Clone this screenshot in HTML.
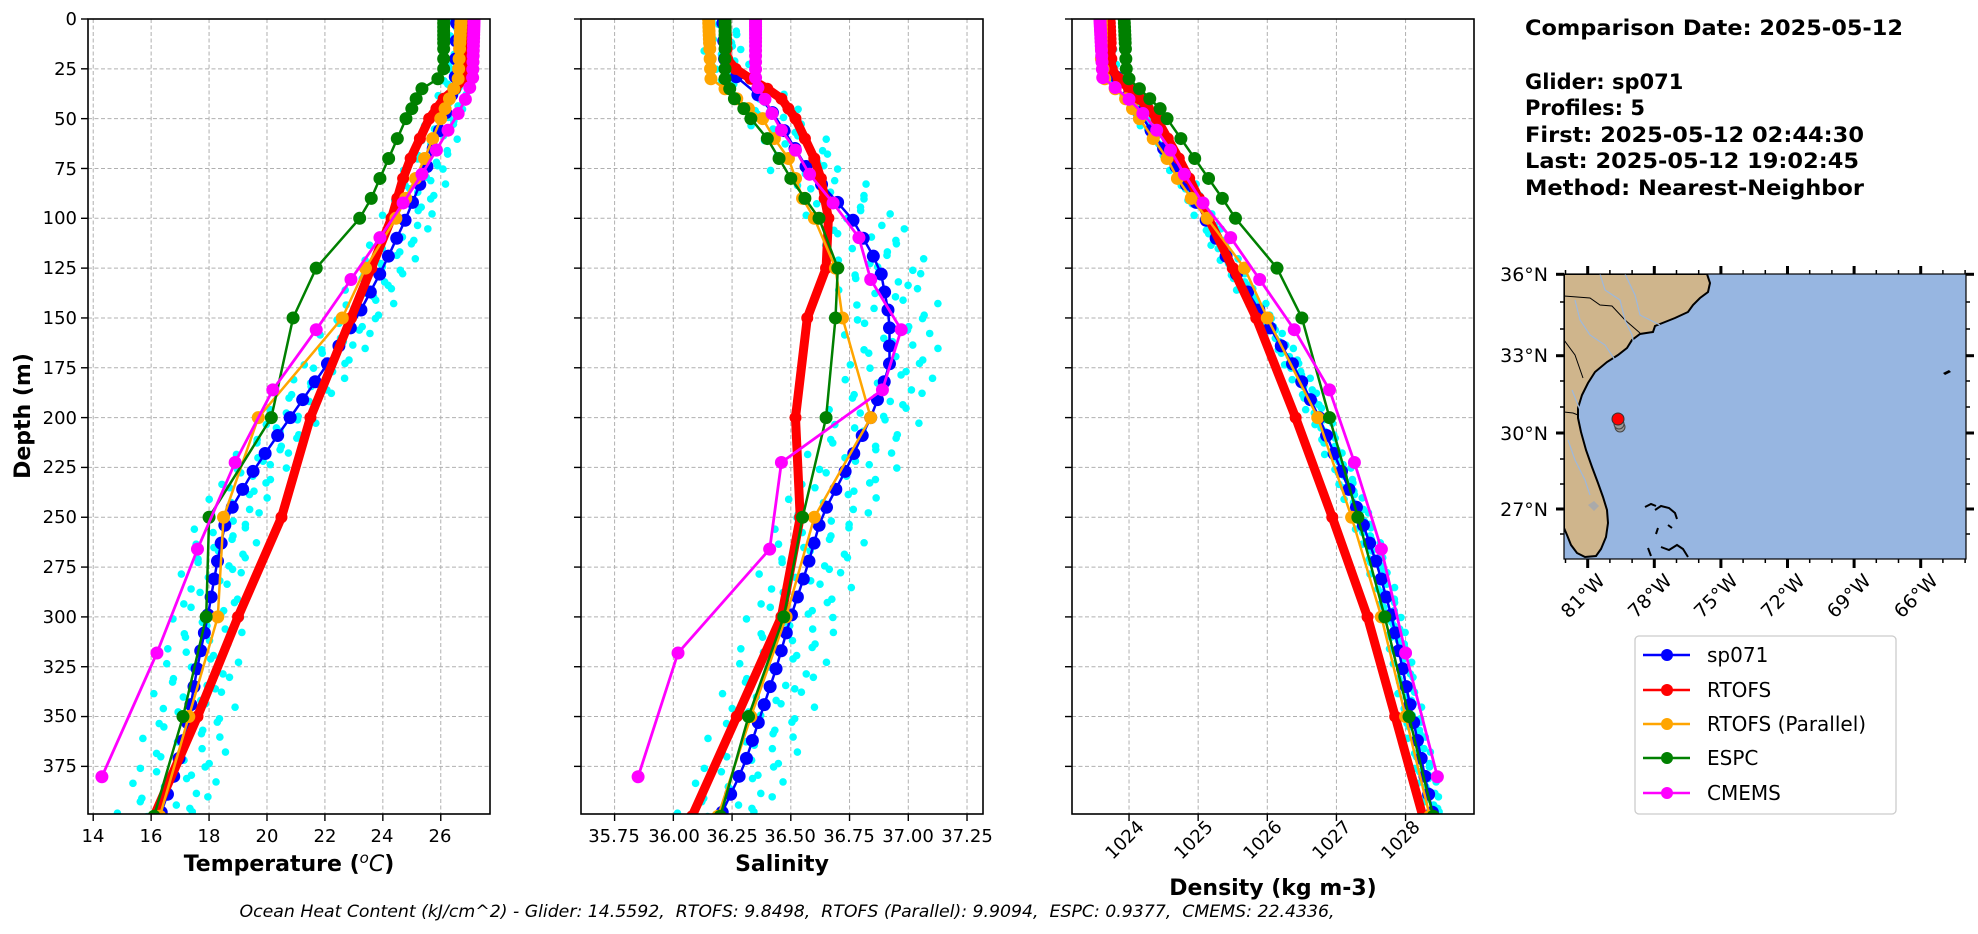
<!DOCTYPE html>
<html><head><meta charset="utf-8">
<style>
html,body{margin:0;padding:0;background:#fff;}
svg{display:block;}
text{font-family:"DejaVu Sans","Liberation Sans",sans-serif;fill:#000;}
</style></head>
<body>
<svg id="s" width="1978" height="934" viewBox="0 0 1978 934" xmlns="http://www.w3.org/2000/svg">
<defs>
<clipPath id="c1"><rect x="88" y="19" width="402" height="795"/></clipPath>
<clipPath id="c2"><rect x="581" y="19" width="402" height="795"/></clipPath>
<clipPath id="c3"><rect x="1072" y="19" width="402" height="795"/></clipPath>
<clipPath id="cm"><rect x="1564" y="274" width="402" height="285"/></clipPath>
</defs>
<g id="grid"></g>
<g id="data"></g>
<g id="frames" fill="none" stroke="#000" stroke-width="1.6">
<rect x="88" y="19" width="402" height="795"/>
<rect x="581" y="19" width="402" height="795"/>
<rect x="1072" y="19" width="402" height="795"/>
</g>
<g id="ticks" stroke="#000" stroke-width="1.4"></g>
<g font-size="18" text-anchor="end">
<text x="77" y="25">0</text><text x="77" y="75">25</text><text x="77" y="125">50</text><text x="77" y="175">75</text>
<text x="77" y="224">100</text><text x="77" y="274">125</text><text x="77" y="324">150</text><text x="77" y="374">175</text>
<text x="77" y="424">200</text><text x="77" y="473">225</text><text x="77" y="523">250</text><text x="77" y="573">275</text>
<text x="77" y="623">300</text><text x="77" y="673">325</text><text x="77" y="722">350</text><text x="77" y="772">375</text>
</g>
<g font-size="18" text-anchor="middle">
<text x="93" y="842">14</text><text x="151" y="842">16</text><text x="209" y="842">18</text><text x="267" y="842">20</text>
<text x="325" y="842">22</text><text x="382" y="842">24</text><text x="440" y="842">26</text>
<text x="614" y="842">35.75</text><text x="674" y="842">36.00</text><text x="732" y="842">36.25</text><text x="790" y="842">36.50</text>
<text x="849" y="842">36.75</text><text x="908" y="842">37.00</text><text x="967" y="842">37.25</text>
</g>
<g font-size="18" text-anchor="end">
<text transform="translate(1145,828) rotate(-45)">1024</text>
<text transform="translate(1214,828) rotate(-45)">1025</text>
<text transform="translate(1283,828) rotate(-45)">1026</text>
<text transform="translate(1352,828) rotate(-45)">1027</text>
<text transform="translate(1421,828) rotate(-45)">1028</text>
</g>
<g font-size="22" font-weight="bold" text-anchor="middle">
<text x="289" y="871">Temperature (<tspan font-weight="normal" font-style="italic" font-size="15" dy="-8">o</tspan><tspan font-weight="normal" font-style="italic" dy="8">C</tspan>)</text>
<text x="782" y="871">Salinity</text>
<text x="1273" y="895">Density (kg m-3)</text>
<text transform="translate(30,416) rotate(-90)">Depth (m)</text>
</g>
<text x="787" y="917" font-size="16.5" font-style="italic" text-anchor="middle" textLength="1095" lengthAdjust="spacingAndGlyphs">Ocean Heat Content (kJ/cm^2) - Glider: 14.5592,&#160; RTOFS: 9.8498,&#160; RTOFS (Parallel): 9.9094,&#160; ESPC: 0.9377,&#160; CMEMS: 22.4336,</text>

<g font-size="21" font-weight="bold">
<text x="1525" y="35" textLength="378" lengthAdjust="spacingAndGlyphs">Comparison Date: 2025-05-12</text>
<text x="1525" y="89">Glider: sp071</text>
<text x="1525" y="115">Profiles: 5</text>
<text x="1525" y="142" textLength="339" lengthAdjust="spacingAndGlyphs">First: 2025-05-12 02:44:30</text>
<text x="1525" y="168" textLength="334" lengthAdjust="spacingAndGlyphs">Last: 2025-05-12 19:02:45</text>
<text x="1525" y="195" textLength="339" lengthAdjust="spacingAndGlyphs">Method: Nearest-Neighbor</text>
</g>

<g id="map">
<rect x="1564" y="274" width="402" height="285" fill="#97b6e1"/>
<g clip-path="url(#cm)">
<path d="M1564,274 L1707,274 L1710,283 L1708,292 L1700,298 L1693,305 L1688,312 L1675,318 L1665,322 L1655,326 L1653,332 L1640,334 L1632,340 L1627,348 L1618,355 L1607,362 L1595,372 L1588,383 L1582,395 L1578,408 L1578,418 L1581,432 L1586,450 L1592,467 L1598,483 L1603,497 L1607,510 L1608,523 L1606,537 L1601,549 L1596,556 L1585,557 L1577,553 L1571,545 L1567,535 L1564,528 Z" fill="#cfb58c" stroke="#000" stroke-width="2"/>
<path d="M1564,296 L1590,298 L1600,305 L1612,306 L1625,320 L1640,333" fill="none" stroke="#000" stroke-width="1"/>
<path d="M1564,340 L1575,355 L1583,378" fill="none" stroke="#000" stroke-width="1"/>
<path d="M1564,412 L1573,413 L1578,415" fill="none" stroke="#000" stroke-width="1"/>
<path d="M1600,274 L1605,290 L1620,300 L1625,320 L1632,335 L1635,350 M1625,274 L1635,295 L1640,315 L1660,325 M1575,300 L1580,320 L1590,335 L1605,345 L1615,360 M1572,390 L1580,410 M1568,440 L1575,460 L1585,480 L1590,495" fill="none" stroke="#9db8dc" stroke-width="1.2"/>
<path d="M1588,505 l6,-4 l5,5 l-5,5 z" fill="#aaa"/>
<g fill="none" stroke="#000" stroke-width="2">
<path d="M1645,507 l6,-3 l5,2 M1655,510 l6,-4 l8,2 l6,5 l2,6 M1668,525 l4,3 M1658,528 l-2,6 M1648,548 l3,8 M1661,547 l8,3 l8,-5 l6,4 l5,8"/>
</g>
<path d="M1943,373 l6,-3 l2,2 l-6,3z" fill="#000"/>
<circle cx="1620" cy="427" r="5" fill="#999" stroke="#444" stroke-width="1"/>
<circle cx="1619" cy="424" r="5" fill="#999" stroke="#444" stroke-width="1"/>
<circle cx="1618" cy="419" r="6" fill="#f00" stroke="#333" stroke-width="1"/>
</g>
<rect x="1564" y="274" width="402" height="285" fill="none" stroke="#000" stroke-width="1.2"/>
<g id="mapticks" stroke="#000"></g>
<g font-size="19" text-anchor="end">
<text x="1548" y="281">36°N</text><text x="1548" y="362">33°N</text><text x="1548" y="440">30°N</text><text x="1548" y="516">27°N</text>
</g>
<g font-size="19" text-anchor="end">
<text transform="translate(1606,582) rotate(-45)">81°W</text>
<text transform="translate(1673,582) rotate(-45)">78°W</text>
<text transform="translate(1739,582) rotate(-45)">75°W</text>
<text transform="translate(1806,582) rotate(-45)">72°W</text>
<text transform="translate(1872,582) rotate(-45)">69°W</text>
<text transform="translate(1939,582) rotate(-45)">66°W</text>
</g>
</g>

<g>
<rect x="1635" y="636" width="261" height="178" rx="4" fill="#fff" stroke="#ccc" stroke-width="1.3"/>
<g stroke-width="2.5">
<line x1="1643" y1="655" x2="1690" y2="655" stroke="#0000ff"/><circle cx="1667" cy="655" r="6" fill="#0000ff"/>
<line x1="1643" y1="690" x2="1690" y2="690" stroke="#ff0000"/><circle cx="1667" cy="690" r="6" fill="#ff0000"/>
<line x1="1643" y1="724" x2="1690" y2="724" stroke="#ffa500"/><circle cx="1667" cy="724" r="6" fill="#ffa500"/>
<line x1="1643" y1="758" x2="1690" y2="758" stroke="#008000"/><circle cx="1667" cy="758" r="6" fill="#008000"/>
<line x1="1643" y1="793" x2="1690" y2="793" stroke="#ff00ff"/><circle cx="1667" cy="793" r="6" fill="#ff00ff"/>
</g>
<g font-size="20">
<text x="1707" y="662">sp071</text><text x="1707" y="697">RTOFS</text><text x="1707" y="731">RTOFS (Parallel)</text>
<text x="1707" y="765">ESPC</text><text x="1707" y="800">CMEMS</text>
</g>
</g>
</svg>
<script>
(function(){
var NS="http://www.w3.org/2000/svg";
function el(p,t,a){var e=document.createElementNS(NS,t);for(var k in a)e.setAttribute(k,a[k]);p.appendChild(e);return e;}
var grid=document.getElementById('grid'),data=document.getElementById('data'),ticks=document.getElementById('ticks'),mt=document.getElementById('mapticks');
function Y(d){return 19+d*1.993;}
var P=[{x0:88,x1:490,a:13.82,b:27.7,c:'c1',tk:[14,16,18,20,22,24,26]},
{x0:581,x1:983,a:35.607,b:37.318,c:'c2',tk:[35.75,36,36.25,36.5,36.75,37,37.25]},
{x0:1072,x1:1474,a:1023.175,b:1028.99,c:'c3',tk:[1024,1025,1026,1027,1028]}];
P.forEach(function(p){p.X=function(v){return p.x0+(v-p.a)/(p.b-p.a)*(p.x1-p.x0);};
 p.tk.forEach(function(t){var x=p.X(t);el(grid,'line',{x1:x,x2:x,y1:19,y2:814,stroke:'#b0b0b0','stroke-width':1,'stroke-dasharray':'4,2.5'});el(ticks,'line',{x1:x,x2:x,y1:814,y2:821});});
 for(var d=25;d<400;d+=25){el(grid,'line',{x1:p.x0,x2:p.x1,y1:Y(d),y2:Y(d),stroke:'#b0b0b0','stroke-width':1,'stroke-dasharray':'4,2.5'});}
 for(var d=0;d<400;d+=25){el(ticks,'line',{x1:p.x0-7,x2:p.x0,y1:Y(d),y2:Y(d)});}
});
function interp(arr,d){if(d<=arr[0][0])return arr[0][1];for(var i=1;i<arr.length;i++){if(d<=arr[i][0]){var f=(d-arr[i-1][0])/(arr[i][0]-arr[i-1][0]);return arr[i-1][1]+f*(arr[i][1]-arr[i-1][1]);}}return arr[arr.length-1][1];}
var E=[0,2,4,6,8,10,12,15,20,25,30,35,40,45,50,60,70,80,90,100,125,150,200,250,300,350,400];
var C=[0.5,1.5,2.6,3.8,5.1,6.4,7.9,9.6,11.4,13.5,15.8,18.5,21.6,25.2,29.4,34.4,40.3,47.4,55.8,65.8,77.9,92.3,109.7,130.7,155.9,186.1,222.5,266,318.1,380.2];
var G=[];for(var d=2;d<=402;d+=9)G.push(d);
var S=[
{b:[[0,26.55],[30,26.5],[40,26.35],[50,26.1],[75,25.5],[100,24.8],[125,24.0],[150,23.1],[175,22.0],[200,20.8],[225,19.6],[250,18.6],[275,18.25],[300,17.95],[325,17.6],[350,17.3],[375,16.9],[400,16.3]],
 r:[[0,26.85],[30,26.8],[35,26.5],[40,26.1],[50,25.6],[75,24.8],[100,24.3],[125,23.6],[150,22.9],[200,21.5],[250,20.5],[300,19.0],[350,17.6],[400,16.1]],
 o:[[0,26.7],[30,26.6],[40,26.3],[50,26.0],[75,25.3],[100,24.45],[125,23.4],[150,22.6],[200,19.7],[250,18.5],[300,18.3],[350,17.3],[400,16.3]],
 g:[[0,26.1],[25,26.1],[30,25.9],[35,25.35],[40,25.15],[45,25.0],[50,24.8],[60,24.5],[70,24.2],[80,23.9],[90,23.6],[100,23.2],[125,21.7],[150,20.9],[200,20.15],[250,18.0],[300,17.9],[350,17.1],[400,16.1]],
 m:[[0,27.15],[29.4,27.1],[34.4,27.0],[40.3,26.85],[47.4,26.6],[55.8,26.25],[65.8,25.85],[77.9,25.35],[92.3,24.7],[109.7,23.9],[130.7,22.9],[155.9,21.7],[186.1,20.2],[222.5,18.9],[266,17.6],[318.1,16.2],[380.2,14.3]],
 amp:function(d){return 0.2+0.5*Math.min(d,100)/100+0.5*Math.max(0,d-200)/200;}},
{b:[[0,36.21],[25,36.22],[30,36.28],[40,36.38],[50,36.44],[75,36.57],[100,36.76],[125,36.88],[150,36.92],[175,36.92],[200,36.84],[225,36.74],[250,36.63],[275,36.57],[300,36.5],[325,36.44],[350,36.37],[375,36.3],[400,36.2]],
 r:[[0,36.22],[22,36.23],[28,36.3],[35,36.4],[40,36.46],[50,36.52],[75,36.62],[100,36.66],[125,36.65],[150,36.57],[200,36.52],[250,36.54],[300,36.46],[350,36.27],[400,36.08]],
 o:[[0,36.15],[30,36.16],[35,36.22],[40,36.27],[45,36.32],[50,36.38],[60,36.43],[70,36.49],[80,36.52],[90,36.55],[100,36.6],[125,36.69],[150,36.72],[200,36.84],[250,36.6],[300,36.48],[350,36.33],[400,36.19]],
 g:[[0,36.22],[30,36.22],[35,36.24],[40,36.26],[45,36.3],[50,36.33],[60,36.4],[70,36.45],[80,36.5],[90,36.56],[100,36.62],[125,36.7],[150,36.69],[200,36.65],[250,36.55],[300,36.47],[350,36.32],[400,36.2]],
 m:[[0,36.35],[29.4,36.35],[34.4,36.36],[40.3,36.39],[47.4,36.42],[55.8,36.46],[65.8,36.52],[77.9,36.58],[92.3,36.68],[109.7,36.79],[130.7,36.84],[155.9,36.97],[186.1,36.89],[222.5,36.46],[266,36.41],[318.1,36.02],[380.2,35.85]],
 amp:function(d){return 0.05+0.1*Math.min(d,100)/100;}},
{b:[[0,1023.68],[25,1023.72],[35,1023.95],[50,1024.2],[75,1024.7],[100,1025.1],[125,1025.5],[150,1025.95],[175,1026.4],[200,1026.75],[225,1027.05],[250,1027.35],[275,1027.6],[300,1027.8],[325,1027.95],[350,1028.1],[375,1028.25],[400,1028.4]],
 r:[[0,1023.72],[25,1023.75],[30,1023.85],[40,1024.15],[50,1024.4],[75,1024.8],[100,1025.15],[125,1025.5],[150,1025.84],[200,1026.41],[250,1026.94],[300,1027.45],[350,1027.85],[400,1028.25]],
 o:[[0,1023.6],[20,1023.6],[30,1023.65],[35,1023.8],[40,1023.95],[45,1024.05],[50,1024.15],[60,1024.35],[70,1024.55],[80,1024.7],[90,1024.9],[100,1025.13],[125,1025.67],[150,1026.0],[200,1026.73],[250,1027.22],[300,1027.65],[350,1028.0],[400,1028.35]],
 g:[[0,1023.93],[25,1023.96],[30,1024.0],[35,1024.15],[40,1024.3],[45,1024.45],[50,1024.55],[60,1024.75],[70,1024.95],[80,1025.15],[90,1025.35],[100,1025.54],[125,1026.14],[150,1026.5],[200,1026.9],[250,1027.31],[300,1027.7],[350,1028.05],[400,1028.4]],
 m:[[0.5,1023.58],[29.4,1023.62],[34.4,1023.8],[40.3,1024.0],[47.4,1024.2],[55.8,1024.4],[65.8,1024.6],[77.9,1024.8],[92.3,1025.07],[109.7,1025.47],[130.7,1025.89],[155.9,1026.39],[186.1,1026.9],[222.5,1027.26],[266,1027.65],[318.1,1028.0],[380.2,1028.46]],
 amp:function(d){return 0.06+0.05*Math.min(d,100)/100;}}
];
var K=[-1.0,-0.45,0.25,0.7,1.15];
S.forEach(function(s,i){var p=P[i];var g=el(data,'g',{'clip-path':'url(#'+p.c+')'});
 K.forEach(function(k,j){for(var d=1+j*1.7;d<=402;d+=7.5){var v=interp(s.b,d)+s.amp(d)*(k+0.3*Math.sin(d*0.31+j*1.9));el(g,'circle',{cx:p.X(v),cy:Y(d),r:3.8,fill:'#00ffff'});}});
 function line(arr,lev,col,lw,mr){var pts=lev.map(function(d){return [p.X(interp(arr,d)),Y(d)];});
  el(g,'polyline',{points:pts.map(function(q){return q[0].toFixed(1)+','+q[1].toFixed(1);}).join(' '),fill:'none',stroke:col,'stroke-width':lw,'stroke-linejoin':'round'});
  pts.forEach(function(q){el(g,'circle',{cx:q[0],cy:q[1],r:mr,fill:col});});}
 line(s.b,G,'#0000ff',2.5,6.5);
 line(s.r,E,'#ff0000',9,6);
 line(s.o,E,'#ffa500',2.5,6.5);
 line(s.g,E,'#008000',2.5,6.5);
 line(s.m,C,'#ff00ff',2.8,6.5);
});
[274.3,355.7,433,509].forEach(function(y){el(mt,'line',{x1:1556,x2:1564,y1:y,y2:y,'stroke-width':3});el(mt,'line',{x1:1966,x2:1974,y1:y,y2:y,'stroke-width':3});});
[302,329,381,407,459,484,534].forEach(function(y){el(mt,'line',{x1:1560,x2:1564,y1:y,y2:y,'stroke-width':1.5});el(mt,'line',{x1:1966,x2:1970,y1:y,y2:y,'stroke-width':1.5});});
for(var L=82;L>=64;L--){var x=1587.7+(81-L)*22.2;if(x<1564||x>1967)continue;var maj=(L%3==0);
 el(mt,'line',{x1:x,x2:x,y1:559,y2:maj?568:563,'stroke-width':maj?3:1.5});el(mt,'line',{x1:x,x2:x,y1:274,y2:maj?266:270,'stroke-width':maj?3:1.5});}
})();
</script>
</body></html>
